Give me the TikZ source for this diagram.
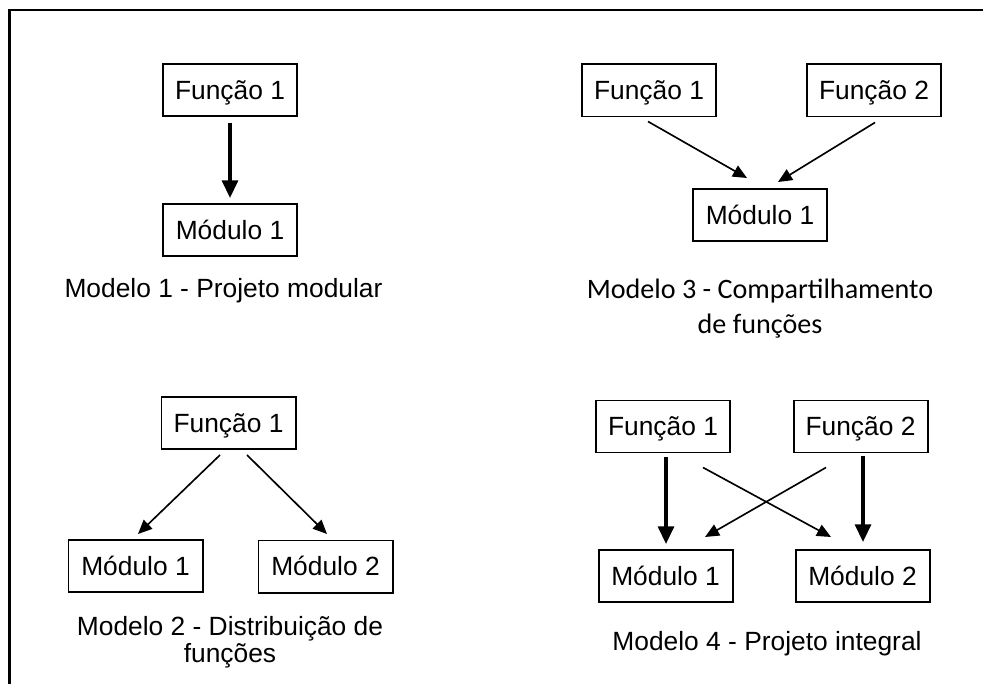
\documentclass[tikz,border=0pt]{standalone}
\usepackage{fontspec}
\setmainfont{Liberation Sans}
\newfontfamily\calibrifont{Carlito}
\usetikzlibrary{arrows.meta, calc}

\begin{document}
\begin{tikzpicture}[
    x=0.03cm, y=-0.03cm,
    font=\fontsize{22.5}{23}\selectfont,
    box/.style={draw, line width=1.7pt, minimum width=4.02cm, minimum height=1.56cm,
        inner sep=0pt, text height=16pt, text depth=0pt},
    bold arrow/.style={-{Triangle[length=15pt, width=13.5pt]}, line width=2.8pt},
    thin arrow/.style={-{Triangle[length=12pt, width=10.5pt]}, line width=1.4pt},
    caption/.style={anchor=base, align=center, inner sep=0pt}
]

    % Page and frame
    \useasboundingbox (0,0) rectangle (983,684);
    \draw[line width=1.8pt] (9.5,684) -- (9.5,10) -- (983,10);

    % Modelo 1
    \node[box] (f11) at (230,90) {Função 1};
    \node[box] (m11) at (230,230) {Módulo 1};
    \draw[bold arrow] ($(f11.south)+(0,6)$) -- ($(m11.north)+(0,-5)$);
    \node[caption] (c1) at (223.5,298) {Modelo 1 - Projeto modular};

    % Modelo 3 (base = last line)
    \node[box] (f31) at (649,90.5) {Função 1};
    \node[box] (f32) at (874,90.5) {Função 2};
    \node[box] (m31) at (760,215) {Módulo 1};
    \draw[thin arrow] ($(f31.south)+(-1,4)$) -- ($(m31.north)+(-13,-10)$);
    \draw[thin arrow] ($(f32.south)+(1,5)$) -- ($(m31.north)+(18,-6)$);
    \node[caption, font=\calibrifont\fontsize{24}{29.8}\selectfont] (c3) at (760,333)
        {Modelo 3 - Compartilhamento\\de funções};

    % Modelo 2
    \node[box] (f21) at (228.5,423) {Função 1};
    \node[box] (m21) at (135.5,566) {Módulo 1};
    \node[box] (m22) at (325.5,566.5) {Módulo 2};
    \draw[thin arrow] ($(f21.south)+(-8.5,5)$) -- ($(m21.north)+(2.5,-5)$);
    \draw[thin arrow] ($(f21.south)+(18.5,5)$) -- ($(m22.north)+(1.5,-5.5)$);
    \node[caption] (c2) at (230,662) {Modelo 2 - Distribuição de\\funções};

    % Modelo 4
    \node[box] (f41) at (663,426.5) {Função 1};
    \node[box] (f42) at (860.5,426.5) {Função 2};
    \node[box] (m41) at (665.5,576) {Módulo 1};
    \node[box] (m42) at (862.5,576) {Módulo 2};
    \draw[bold arrow] ($(f41.south)+(3,4)$) -- ($(m41.north)+(0.5,-5)$);
    \draw[bold arrow] ($(f42.south)+(2.5,3)$) -- ($(m42.north)+(0.5,-7)$);
    \draw[thin arrow] ($(f41.south)+(40,14)$) -- ($(m42.north)+(-31.5,-12)$);
    \draw[thin arrow] ($(f42.south)+(-34.5,14)$) -- ($(m41.north)+(39.5,-12)$);
    \node[caption] (c4) at (767,650) {Modelo 4 - Projeto integral};

\end{tikzpicture}
\end{document}
